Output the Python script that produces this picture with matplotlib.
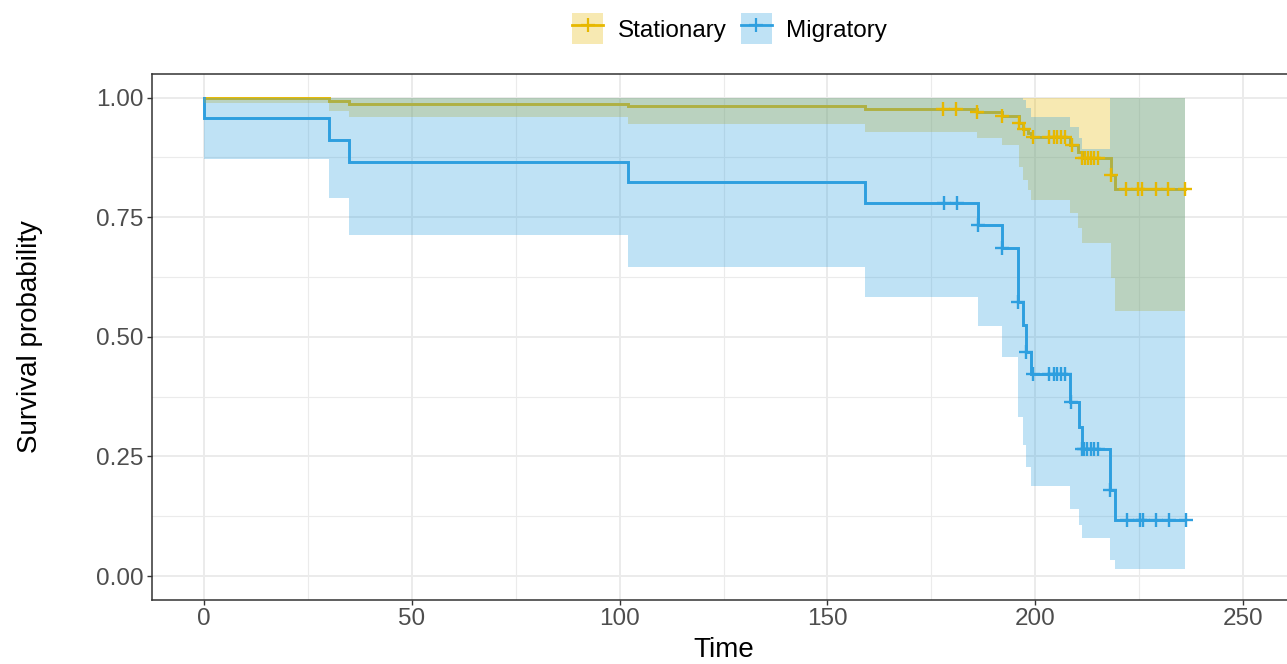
import numpy as np
import matplotlib
matplotlib.use("Agg")
import matplotlib.pyplot as plt
from matplotlib.patches import Patch
from matplotlib.lines import Line2D
from matplotlib.legend_handler import HandlerTuple

plt.rcParams['font.family'] = ['Liberation Sans', 'DejaVu Sans']

# ---------------- data ----------------
groups = ["Stationary", "Migratory"]
colors = ["#E7B800", "#2E9FDF"]

stat_time  = [0, 30, 35, 102, 159, 185.9, 191.9, 196.2, 197.1, 198.3, 199.1, 208.4, 210.4, 211.2, 218.2, 219.2, 236.1]
stat_surv  = [1.0, 0.993, 0.986, 0.983, 0.977, 0.969, 0.962, 0.946, 0.935, 0.926, 0.917, 0.901, 0.886, 0.874, 0.838, 0.809, 0.809]
stat_lower = [0.988, 0.972, 0.959, 0.944, 0.929, 0.915, 0.901, 0.855, 0.828, 0.807, 0.786, 0.758, 0.727, 0.695, 0.623, 0.554, 0.554]
stat_upper = [1.0, 1.0, 1.0, 1.0, 1.0, 1.0, 1.0, 1.0, 1.0, 1.0, 1.0, 1.0, 1.0, 1.0, 1.0, 1.0, 1.0]
stat_cens  = [177.9, 180.9, 185.9, 191.9, 196.2, 197.4, 199.5, 203.3, 204.4, 205.3, 206.3, 207.2,
              208.8, 211.2, 211.9, 212.6, 213.4, 214.2, 215.1, 218.2, 221.8, 224.8, 225.6, 229.1, 232.0, 236.0]

mig_time  = [0, 0, 30, 35, 102, 159, 186.2, 191.9, 195.9, 197.1, 197.9, 199.1, 208.3, 210.5, 211.2, 218.1, 219.1, 236.1]
mig_surv  = [1.0, 0.958, 0.911, 0.866, 0.823, 0.780, 0.734, 0.685, 0.573, 0.525, 0.469, 0.422, 0.364, 0.312, 0.265, 0.180, 0.118, 0.118]
mig_lower = [1.0, 0.871, 0.791, 0.713, 0.646, 0.584, 0.523, 0.458, 0.332, 0.274, 0.228, 0.188, 0.141, 0.107, 0.079, 0.033, 0.014, 0.014]
mig_upper = [1.0, 1.0, 1.0, 1.0, 1.0, 1.0, 1.0, 1.0, 1.0, 0.995, 0.978, 0.959, 0.938, 0.915, 0.892, 1.0, 1.0, 1.0]
mig_cens  = [178.1, 181.1, 186.2, 191.9, 195.9, 197.9, 199.4, 203.4, 204.4, 205.3, 206.2, 207.2,
             208.6, 211.2, 211.8, 212.5, 213.3, 214.2, 215.0, 218.1, 222.0, 225.1, 225.9, 229.1, 232.3, 236.2]

x_ticks = [0, 50, 100, 150, 200, 250]
y_ticks = [0.00, 0.25, 0.50, 0.75, 1.00]
y_tick_labels = ["0.00", "0.25", "0.50", "0.75", "1.00"]

series = [
    (stat_time, stat_surv, stat_lower, stat_upper, stat_cens),
    (mig_time, mig_surv, mig_lower, mig_upper, mig_cens),
]

# ---------------- figure ----------------
W, H = 1287, 664
fig = plt.figure(figsize=(W / 100, H / 100), dpi=100)
ax = fig.add_axes([152 / W, 1 - 600 / H, (1295 - 152) / W, (600 - 73.6) / H])

ax.set_xlim(-12.5, 262.5)
ax.set_ylim(-0.05, 1.05)

# grid (theme_bw)
ax.set_xticks(x_ticks)
ax.set_yticks(y_ticks)
ax.set_yticklabels(y_tick_labels)
ax.set_xticks([25, 75, 125, 175, 225], minor=True)
ax.set_yticks([0.125, 0.375, 0.625, 0.875], minor=True)
ax.grid(True, which='major', color='#EBEBEB', lw=1.4, zorder=0)
ax.grid(True, which='minor', color='#EBEBEB', lw=0.8, zorder=0)
ax.set_axisbelow(True)
ax.tick_params(which='minor', length=0)
ax.tick_params(which='major', length=3.5, width=1.0, color='#333333',
               labelsize=17.5, labelcolor='#4D4D4D', pad=2.5)
for sp in ax.spines.values():
    sp.set_color('#333333')
    sp.set_linewidth(1.1)

# step lines
for (t, s, lo, up, cens), c in zip(series, colors):
    ax.step(t, s, where='post', color=c, lw=2.1, zorder=2, solid_joinstyle='miter')

# confidence ribbons (drawn over the lines)
for (t, s, lo, up, cens), c in zip(series, colors):
    ax.fill_between(t, lo, up, step='post', color=c, alpha=0.3, lw=0, zorder=3)

# censor marks
for (t, s, lo, up, cens), c in zip(series, colors):
    t_arr = np.asarray(t)
    s_arr = np.asarray(s)
    ys = [s_arr[np.searchsorted(t_arr, ct, side='right') - 1] for ct in cens]
    ax.plot(cens, ys, ls='none', marker='+', ms=10, mew=1.7, color=c, zorder=4)

ax.set_xlabel("Time", fontsize=20, color='black', labelpad=5)
ax.set_ylabel("Survival probability", fontsize=20, color='black', labelpad=38)

# legend
handles = []
for g, c in zip(groups, colors):
    p = Patch(facecolor=c, alpha=0.3, edgecolor='none')
    l = Line2D([], [], color=c, lw=2.0, marker='+', ms=10, mew=1.6)
    handles.append((p, l))
fig.legend(handles, groups, handler_map={tuple: HandlerTuple(ndivide=1, pad=0)},
           loc='center', bbox_to_anchor=(0.567, 0.957), ncol=2, frameon=False,
           fontsize=17.5, handlelength=1.27, handleheight=1.58, handletextpad=0.6,
           columnspacing=0.6, borderpad=0.2)

fig.savefig("out.png", dpi=100)
